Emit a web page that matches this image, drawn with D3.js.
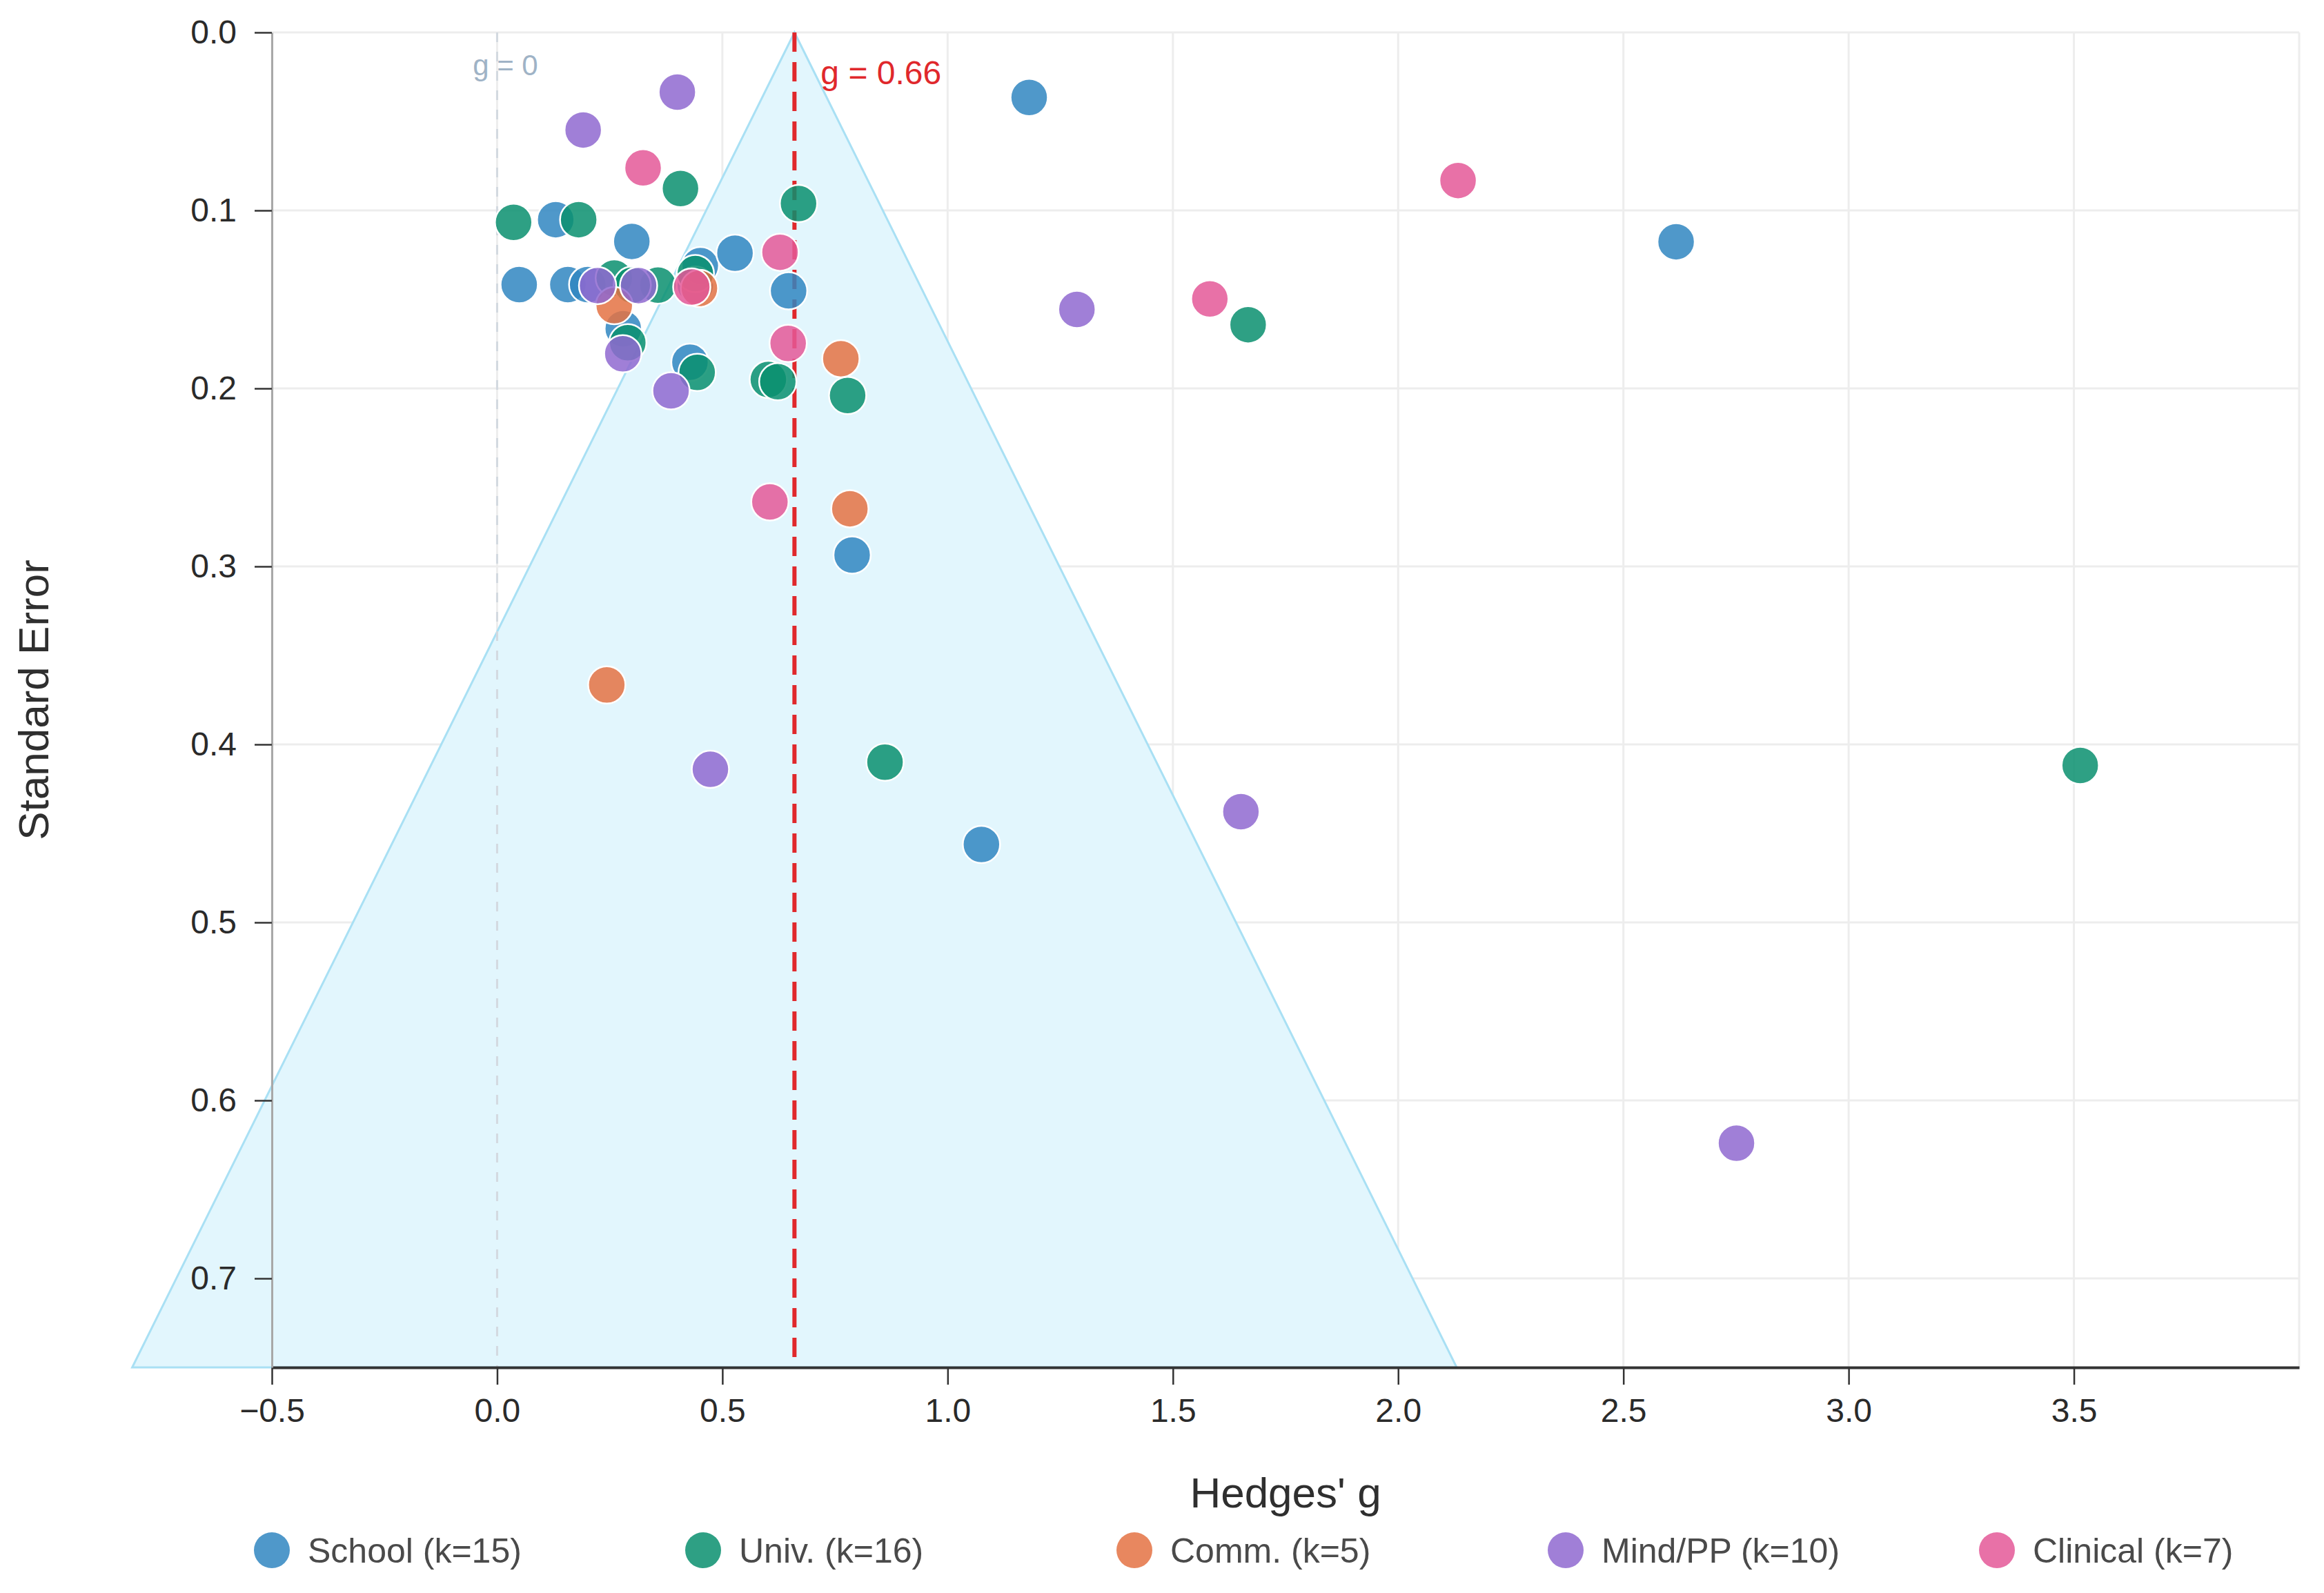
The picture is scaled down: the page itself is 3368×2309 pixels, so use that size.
<!DOCTYPE html>
<html>
<head>
<meta charset="utf-8">
<script src="https://cdn.jsdelivr.net/npm/d3@7"></script>
<style>
  body { margin: 0; background: #fff; }
  text { font-family: "Liberation Sans", Arial, sans-serif; }
</style>
</head>
<body>
<script>
// [Hedges' g, standard error] per study
const school = [[1.181, 0.0365], [2.617, 0.1176], [0.130, 0.1052], [0.299, 0.1174], [0.049, 0.1417],
  [0.157, 0.1417], [0.201, 0.1417], [0.451, 0.131], [0.528, 0.124], [0.647, 0.1452],
  [0.280, 0.1665], [0.428, 0.1853], [0.788, 0.2936], [1.075, 0.4562], [0.440, 0.142]];
const univ = [[0.0365, 0.1067], [0.181, 0.1052], [0.407, 0.0877], [0.669, 0.0961], [1.667, 0.1642],
  [3.514, 0.4118], [0.861, 0.410], [0.778, 0.204], [0.602, 0.195], [0.623, 0.1962],
  [0.444, 0.191], [0.290, 0.1743], [0.260, 0.138], [0.357, 0.142], [0.440, 0.1355], [0.300, 0.142]];
const comm = [[0.2434, 0.3666], [0.783, 0.2676], [0.763, 0.1833], [0.260, 0.1535], [0.449, 0.1438]];
const mind = [[0.400, 0.0335], [0.191, 0.0548], [1.287, 0.1556], [1.651, 0.4378], [2.751, 0.624],
  [0.4734, 0.414], [0.386, 0.2014], [0.279, 0.1805], [0.223, 0.1422], [0.314, 0.1422]];
const clinical = [[0.324, 0.0761], [2.133, 0.0832], [1.582, 0.1497], [0.628, 0.1235], [0.646, 0.1747],
  [0.6055, 0.2638], [0.432, 0.143]];

const groupNames = ["School (k=15)", "Univ. (k=16)", "Comm. (k=5)", "Mind/PP (k=10)", "Clinical (k=7)"];
const groupColors = ["#3086c1", "#098f6f", "#e47243", "#8f68d0", "#e45898"];
const groups = [school, univ, comm, mind, clinical];

const pooled = 0.66;
const seMax = 0.75;
const xTicks = [-0.5, 0, 0.5, 1, 1.5, 2, 2.5, 3, 3.5];
const yTicks = [0, 0.1, 0.2, 0.3, 0.4, 0.5, 0.6, 0.7];

const w = 3368, h = 2309;
const pLeft = 394, pRight = 3332, pTop = 47, pBottom = 1982;

const svg = d3.select("body").append("svg")
  .attr("width", w).attr("height", h);

const x = d3.scaleLinear().domain([-0.5, 4.0]).range([pLeft, pRight]);
const y = d3.scaleLinear().domain([0, seMax]).range([pTop, pBottom]);

// grid
svg.append("g").selectAll("line")
  .data(yTicks).enter().append("line")
  .attr("x1", pLeft).attr("x2", pRight)
  .attr("y1", d => y(d)).attr("y2", d => y(d))
  .attr("stroke", "#ededed").attr("stroke-width", 3);
svg.append("g").selectAll("line")
  .data(xTicks.concat([4.0])).enter().append("line")
  .attr("x1", d => x(d)).attr("x2", d => x(d))
  .attr("y1", pTop).attr("y2", pBottom)
  .attr("stroke", "#ededed").attr("stroke-width", 3);

// funnel (95% pseudo-CI)
const funnel = [[pooled, 0], [pooled - 1.96 * seMax, seMax], [pooled + 1.96 * seMax, seMax]];
svg.append("path")
  .attr("d", d3.line().x(d => x(d[0])).y(d => y(d[1]))(funnel) + "Z")
  .attr("fill", "#e2f6fd")
  .attr("stroke", "#a9e0f4")
  .attr("stroke-width", 3);

// g = 0 reference
svg.append("line")
  .attr("x1", x(0)).attr("x2", x(0))
  .attr("y1", pTop).attr("y2", pBottom)
  .attr("stroke", "#d3d9e0").attr("stroke-width", 3)
  .attr("stroke-dasharray", "14,14");
svg.append("text")
  .attr("x", x(0) + 12).attr("y", 109)
  .attr("text-anchor", "middle")
  .attr("font-size", 42)
  .attr("fill", "#9fb3c6")
  .text("g = 0");

// pooled estimate
svg.append("line")
  .attr("x1", x(pooled)).attr("x2", x(pooled))
  .attr("y1", y(0)).attr("y2", pBottom)
  .attr("stroke", "#e0282c").attr("stroke-width", 6)
  .attr("stroke-dasharray", "28,15");
svg.append("text")
  .attr("x", x(pooled) + 38).attr("y", 122)
  .attr("font-size", 48)
  .attr("fill", "#e0282c")
  .text("g = " + pooled.toFixed(2));

// axes
const xAxis = svg.append("g")
  .attr("transform", `translate(0,${pBottom})`)
  .call(d3.axisBottom(x).tickValues(xTicks).tickFormat(d3.format(".1f"))
    .tickSize(25).tickSizeOuter(0).tickPadding(20));
xAxis.select(".domain").attr("stroke", "#333").attr("stroke-width", 4);
xAxis.selectAll(".tick line").attr("stroke", "#333").attr("stroke-width", 2.5);
xAxis.selectAll("text").attr("font-size", 48).attr("fill", "#2a2a2a")
  .attr("font-family", "Liberation Sans, Arial, sans-serif");

const yAxis = svg.append("g")
  .attr("transform", `translate(${pLeft},0)`)
  .call(d3.axisLeft(y).tickValues(yTicks).tickFormat(d3.format(".1f"))
    .tickSize(25).tickSizeOuter(0).tickPadding(26));
yAxis.select(".domain").attr("stroke", "#a8a8a8").attr("stroke-width", 3);
yAxis.selectAll(".tick line").attr("stroke", "#333").attr("stroke-width", 2.5);
yAxis.selectAll("text").attr("font-size", 48).attr("fill", "#2a2a2a")
  .attr("font-family", "Liberation Sans, Arial, sans-serif");

svg.append("text")
  .attr("x", (pLeft + pRight) / 2).attr("y", 2185)
  .attr("text-anchor", "middle")
  .attr("font-size", 62).attr("fill", "#2f2f2f")
  .text("Hedges' g");
svg.append("text")
  .attr("transform", `translate(70,${(pTop + pBottom) / 2}) rotate(-90)`)
  .attr("text-anchor", "middle")
  .attr("font-size", 62).attr("fill", "#2f2f2f")
  .text("Standard Error");

// study points
groups.forEach((pts, gi) => {
  svg.append("g").selectAll("circle")
    .data(pts).enter().append("circle")
    .attr("cx", d => x(d[0]))
    .attr("cy", d => y(d[1]))
    .attr("r", 27)
    .attr("fill", groupColors[gi])
    .attr("fill-opacity", 0.85)
    .attr("stroke", "#fff")
    .attr("stroke-width", 2.5);
});

// legend
const legend = svg.append("g").attr("transform", "translate(0,2247)");
const item = legend.selectAll("g")
  .data(groupNames).enter().append("g")
  .attr("transform", (d, i) => `translate(${pLeft + i * 625},0)`);
item.append("circle")
  .attr("r", 26)
  .attr("fill", (d, i) => groupColors[i])
  .attr("fill-opacity", 0.85);
item.append("text")
  .attr("x", 52).attr("y", 18)
  .attr("font-size", 50).attr("fill", "#4a4a4a")
  .text(d => d);
</script>
</body>
</html>
